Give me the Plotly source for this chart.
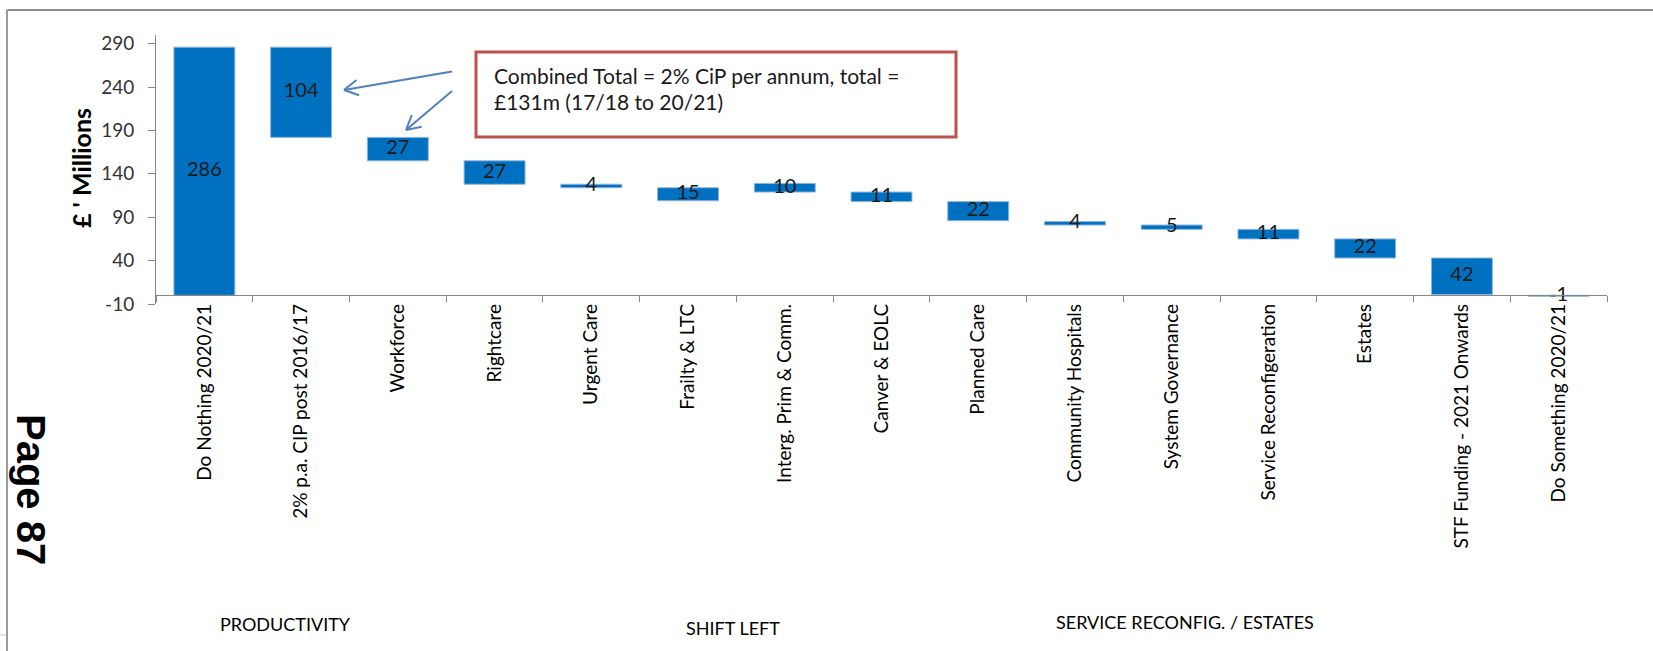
import math
import plotly.graph_objects as go

# ---------------- data ----------------
categories = [
    "Do Nothing 2020/21", "2% p.a. CIP post 2016/17", "Workforce", "Rightcare",
    "Urgent Care", "Frailty & LTC", "Interg. Prim & Comm.", "Canver & EOLC",
    "Planned Care", "Community Hospitals", "System Governance",
    "Service Reconfigeration", "Estates", "STF Funding - 2021 Onwards",
    "Do Something 2020/21",
]
step_values = [286, 104, 27, 27, 4, 15, 10, 11, 22, 4, 5, 11, 22, 42, -1]
bar_bases = [0, 182, 155, 128, 124, 109, 119, 108, 86, 81, 76, 65, 43, 1, 0]
y_tick_values = [-10, 40, 90, 140, 190, 240, 290]
y_tick_labels = ["-10", "40", "90", "140", "190", "240", "290"]
group_labels = ["PRODUCTIVITY", "SHIFT LEFT", "SERVICE RECONFIG. / ESTATES"]
callout_lines = ["Combined Total = 2% CiP per annum, total =", "£131m (17/18 to 20/21)"]
page_label = "Page 87"

# ---------------- layout geometry (pixels) ----------------
FIG_W, FIG_H = 1653, 651
L, R, T, B = 156, 1607, 35, 304
PW, PH = R - L, B - T
Y_MIN, Y_MAX = -10, 300


def px(xp):
    return (xp - L) / PW


def py(yp):
    return (B - yp) / PH


FONT = "Lato"
BLUE = "#0070C0"
AXIS_GREY = "#868686"

fig = go.Figure()

fig.add_trace(go.Bar(
    x=categories, y=step_values, base=bar_bases,
    marker=dict(color=BLUE, line=dict(color="#8DB4E2", width=1)),
    width=0.63, textposition="none", hoverinfo="skip", showlegend=False,
))

label_y = [b + v / 2 for b, v in zip(bar_bases, step_values)]
fig.add_trace(go.Scatter(
    x=categories, y=label_y, mode="text", text=[str(v) for v in step_values],
    textposition="middle center",
    textfont=dict(family=FONT, size=20, color="#1a1a1a"),
    hoverinfo="skip", showlegend=False, cliponaxis=False,
))

annotations = []
shapes = []

# y-axis title
annotations.append(dict(
    text="<b>£ ' Millions</b>", x=px(81), y=py(168), xref="paper", yref="paper",
    showarrow=False, textangle=-90, font=dict(family=FONT, size=25, color="#000"),
    xanchor="center", yanchor="middle",
))

# group labels under the chart
for txt, (gx, gy) in zip(group_labels, [(285, 624), (733, 628), (1185, 622)]):
    annotations.append(dict(
        text=txt, x=px(gx), y=py(gy), xref="paper", yref="paper", showarrow=False,
        font=dict(family=FONT, size=18, color="#000"), xanchor="center", yanchor="middle",
    ))

# callout box
shapes.append(dict(
    type="rect", xref="paper", yref="paper",
    x0=px(476), x1=px(956), y0=py(52), y1=py(137),
    line=dict(color="#C0504D", width=3), fillcolor="rgba(0,0,0,0)",
))
for txt, ly in zip(callout_lines, [75, 101]):
    annotations.append(dict(
        text=txt, x=px(492), y=py(ly), xref="paper", yref="paper", showarrow=False,
        font=dict(family=FONT, size=21, color="#1a1a1a"), xanchor="left", yanchor="middle",
    ))

# arrows (line + open V head)
ARROW_COL = "#4F81BD"
for (sx, sy), (ex, ey) in [((452, 71.5), (344, 90)), ((452, 91), (406, 130))]:
    shapes.append(dict(type="line", xref="paper", yref="paper",
                       x0=px(sx), y0=py(sy), x1=px(ex), y1=py(ey),
                       line=dict(color=ARROW_COL, width=2)))
    ang = math.atan2(sy - ey, sx - ex)
    for d in (0.5, -0.5):
        hx = ex + 16 * math.cos(ang + d)
        hy = ey + 16 * math.sin(ang + d)
        shapes.append(dict(type="line", xref="paper", yref="paper",
                           x0=px(ex), y0=py(ey), x1=px(hx), y1=py(hy),
                           line=dict(color=ARROW_COL, width=2)))

# page marker
annotations.append(dict(
    text="<b>" + page_label + "</b>", x=px(31), y=py(489), xref="paper", yref="paper", showarrow=False,
    textangle=90, font=dict(family="Liberation Sans", size=40, color="#000"),
    xanchor="center", yanchor="middle",
))

# page frame lines
shapes.append(dict(type="line", xref="paper", yref="paper", x0=px(7), x1=px(FIG_W), y0=py(10), y1=py(10),
                   line=dict(color="#8c8c8c", width=2)))
shapes.append(dict(type="line", xref="paper", yref="paper", x0=px(7), x1=px(7), y0=py(10), y1=py(FIG_H),
                   line=dict(color="#9a9a9a", width=2)))
shapes.append(dict(type="line", xref="paper", yref="paper", x0=px(0), x1=px(6), y0=py(635), y1=py(635),
                   line=dict(color="#c8c8c8", width=1)))

fig.update_layout(
    width=FIG_W, height=FIG_H,
    margin=dict(l=L, r=FIG_W - R, t=T, b=FIG_H - B, autoexpand=False),
    paper_bgcolor="white", plot_bgcolor="white",
    showlegend=False,
    annotations=annotations, shapes=shapes,
    xaxis=dict(
        type="category", range=[-0.5, len(categories) - 0.5],
        anchor="free", position=(0 - Y_MIN) / (Y_MAX - Y_MIN),
        showline=True, linecolor=AXIS_GREY, linewidth=1,
        ticks="outside", tickson="boundaries", ticklen=6, tickcolor=AXIS_GREY,
        tickangle=-90, tickfont=dict(family=FONT, size=19, color="#000"),
        showgrid=False, zeroline=False, automargin=False,
    ),
    yaxis=dict(
        range=[Y_MIN, Y_MAX], tickvals=y_tick_values, ticktext=y_tick_labels,
        showline=True, linecolor=AXIS_GREY, linewidth=1,
        ticks="outside", ticklen=7, tickcolor=AXIS_GREY,
        tickfont=dict(family=FONT, size=19, color="#333"),
        ticklabelstandoff=10,
        showgrid=False, zeroline=False, automargin=False,
    ),
)

fig.write_html("out.html")
